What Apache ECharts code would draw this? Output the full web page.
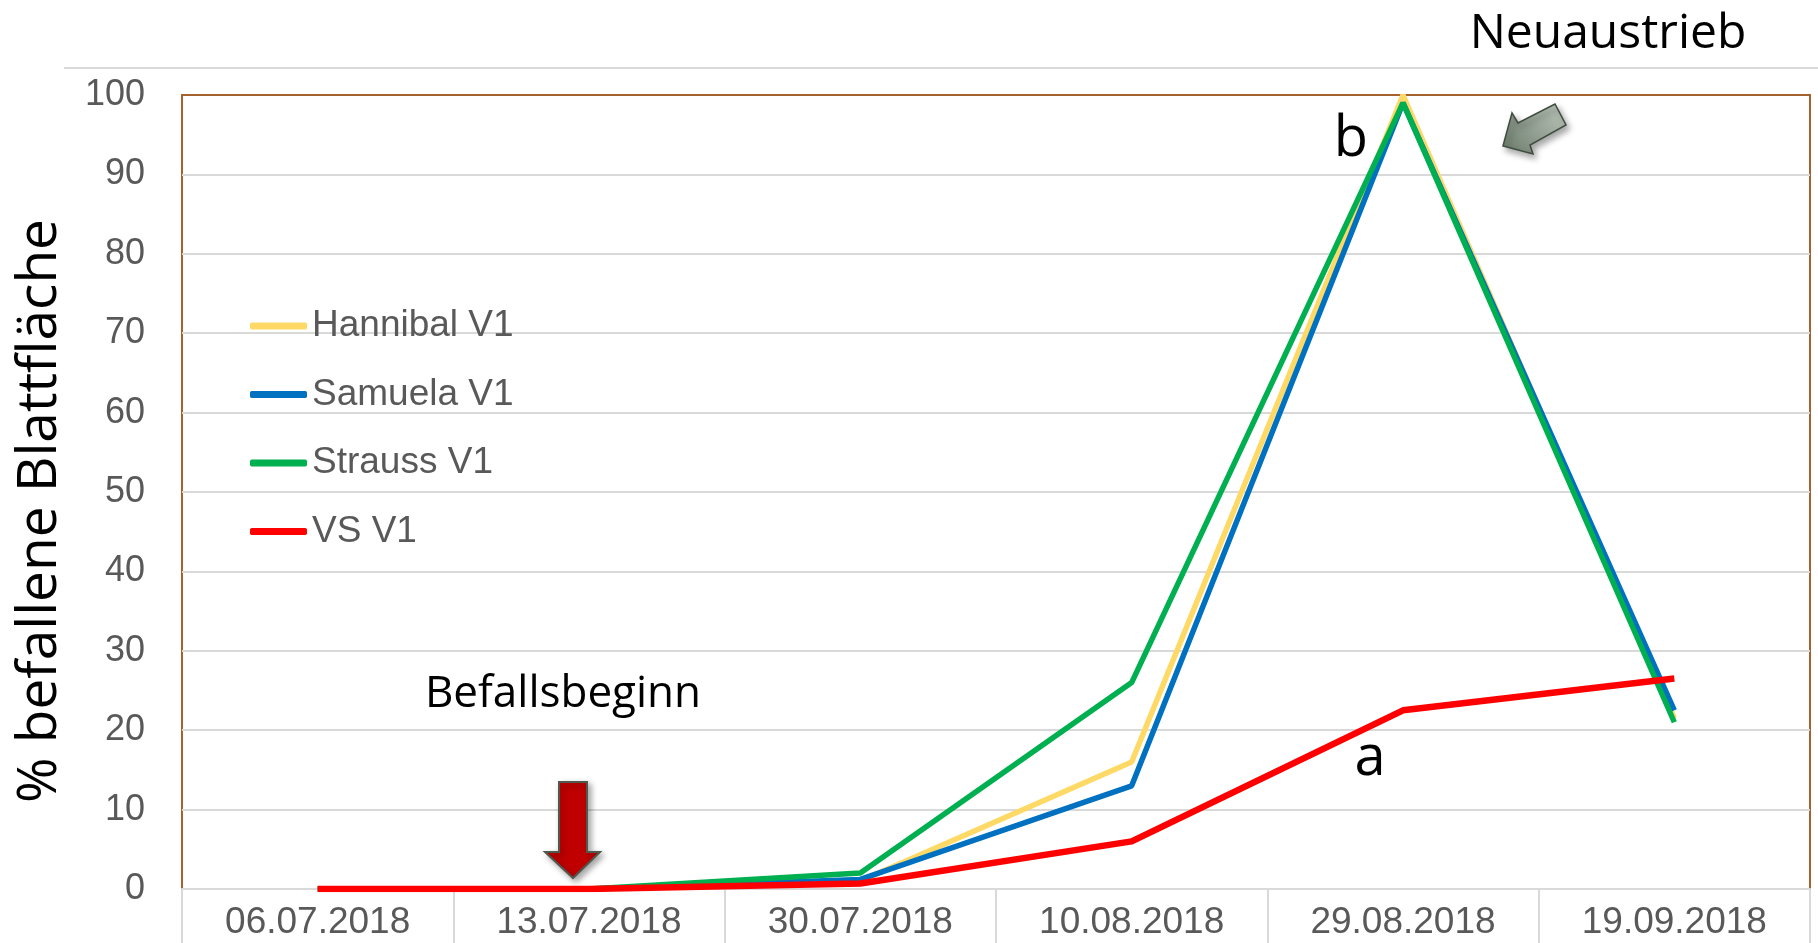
<!DOCTYPE html>
<html>
<head>
<meta charset="utf-8">
<script src="https://cdn.jsdelivr.net/npm/echarts@6/dist/echarts.min.js"></script>
<style>
    html, body {margin: 0; padding: 0; background: #fff;}
    #chart {width: 1818px; height: 943px;}
</style>
</head>
<body>
<div id="chart"></div>
<script>
// Boniturtermine
var dates = ['06.07.2018', '13.07.2018', '30.07.2018', '10.08.2018', '29.08.2018', '19.09.2018'];
// % befallene Blattfläche je Sorte
var hannibal = [0, 0, 1, 16, 100, 21.5];
var samuela = [0, 0, 1.2, 13, 99, 22.5];
var strauss = [0, 0, 2, 26, 99, 21];
var vs = [0, 0, 0.7, 6, 22.5, 26.5];
var names = ['Hannibal V1', 'Samuela V1', 'Strauss V1', 'VS V1'];
var colors = ['#FFD966', '#0070C0', '#00B050', '#FF0000'];

var tickFont = 'Liberation Sans';
var noteFont = 'Open Sans';

function lineSeries(name, data, color, width) {
    return {
        name: name,
        type: 'line',
        data: data,
        color: color,
        symbol: 'none',
        lineStyle: {color: color, width: width},
        emphasis: {disabled: true}
    };
}

function noteText(text, x, y, size) {
    return {
        type: 'text',
        x: x,
        y: y,
        z: 100,
        style: {
            text: text,
            fill: '#000',
            font: 'normal ' + size + 'px "' + noteFont + '"',
            textAlign: 'center',
            textVerticalAlign: 'middle'
        }
    };
}

var myChart = echarts.init(document.getElementById('chart'), null, {renderer: 'canvas'});
var options = {
    animation: false,
    backgroundColor: '#fff',
    grid: {
        left: 182,
        right: 8,
        top: 95,
        bottom: 54,
        show: true,
        borderColor: '#A5622F',
        borderWidth: 2,
        outerBoundsMode: 'none'
    },
    legend: {
        data: names,
        orient: 'vertical',
        left: 245,
        top: 301,
        icon: 'roundRect',
        itemWidth: 57,
        itemHeight: 7,
        itemGap: 28.5,
        selectedMode: false,
        textStyle: {
            color: '#595959',
            fontFamily: tickFont,
            fontSize: 37,
            lineHeight: 40
        }
    },
    xAxis: {
        type: 'category',
        data: dates,
        boundaryGap: true,
        axisLine: {lineStyle: {color: '#D9D9D9', width: 2}},
        axisTick: {show: true, length: 56, lineStyle: {color: '#D9D9D9', width: 2}},
        axisLabel: {
            color: '#595959',
            fontFamily: tickFont,
            fontSize: 37,
            margin: 15
        },
        splitLine: {show: false}
    },
    yAxis: {
        type: 'value',
        min: 0,
        max: 100,
        interval: 10,
        name: '% befallene Blattfläche',
        nameLocation: 'middle',
        nameRotate: 90,
        nameGap: 114,
        nameTextStyle: {
            color: '#000',
            fontFamily: noteFont,
            fontSize: 55,
            padding: [0, 38, 0, 0]
        },
        axisLine: {show: false},
        axisTick: {show: false},
        axisLabel: {
            color: '#595959',
            fontFamily: tickFont,
            fontSize: 36,
            margin: 37
        },
        splitLine: {showMaxLine: false, lineStyle: {color: '#D9D9D9', width: 2}}
    },
    series: [
        lineSeries(names[0], hannibal, colors[0], 5.5),
        lineSeries(names[1], samuela, colors[1], 5.5),
        lineSeries(names[2], strauss, colors[2], 5.5),
        lineSeries(names[3], vs, colors[3], 6.5)
    ],
    graphic: [
        // Linie oben
        {
            type: 'line',
            shape: {x1: 64, y1: 68, x2: 1818, y2: 68},
            style: {stroke: '#D9D9D9', lineWidth: 2}
        },
        noteText('Neuaustrieb', 1608, 34, 48),
        noteText('Befallsbeginn', 563, 694, 44),
        noteText('b', 1351, 140, 56),
        noteText('a', 1370, 759, 56),
        // roter Pfeil: Befallsbeginn
        {
            type: 'polygon',
            z: 100,
            shape: {points: [[559, 782], [587, 782], [587, 852], [600, 852], [573, 878], [545, 852], [559, 852]]},
            style: {
                fill: '#C00000',
                stroke: '#4F5A4F',
                lineWidth: 2,
                shadowBlur: 6,
                shadowOffsetX: 3,
                shadowOffsetY: 3,
                shadowColor: 'rgba(0,0,0,0.35)'
            }
        },
        // grauer Pfeil: Neuaustrieb
        {
            type: 'polygon',
            z: 100,
            shape: {points: [[1503, 146], [1512, 113], [1518, 123], [1555, 104], [1566, 125], [1530, 145], [1533, 154]]},
            style: {
                fill: new echarts.graphic.LinearGradient(0, 1, 1, 0, [
                    {offset: 0, color: '#6B7B6B'},
                    {offset: 1, color: '#BCC6BC'}
                ]),
                stroke: '#3F4B3F',
                lineWidth: 1.5,
                shadowBlur: 6,
                shadowOffsetX: 3,
                shadowOffsetY: 4,
                shadowColor: 'rgba(0,0,0,0.35)'
            }
        }
    ]
};
myChart.setOption(options, true);
</script>
</body>
</html>
